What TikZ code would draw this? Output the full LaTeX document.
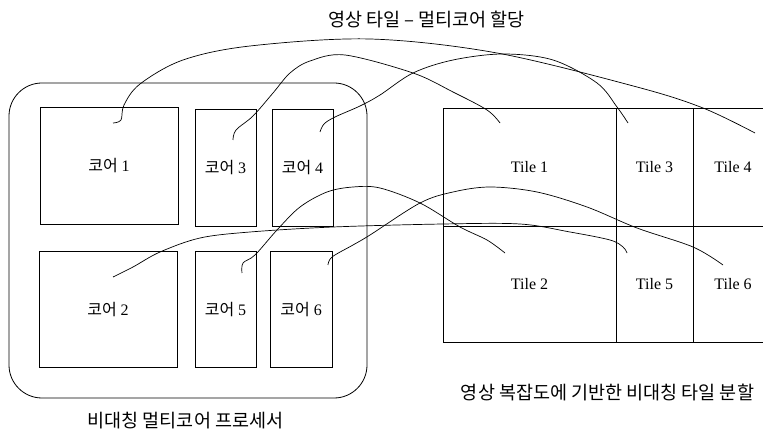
\documentclass[tikz,border=0pt]{standalone}
\usepackage{fontspec}
\setmainfont{Liberation Serif}
\newfontfamily\kr{Noto Sans CJK KR}
\begin{document}
\begin{tikzpicture}[x=1pt,y=-1pt,
  box/.style={draw, line width=0.8pt, inner sep=0pt, font=\fontsize{16}{18}\selectfont},
  link/.style={line width=0.7pt},
  captxt/.style={font=\kr\fontsize{18.5}{20}\selectfont, inner sep=0pt}]
\useasboundingbox (0,0) rectangle (763,430);
\clip (0,0) rectangle (763,430);
% processor
\node[draw, line width=0.8pt, rounded corners=33pt, minimum width=358pt, minimum height=315pt, inner sep=0pt] (proc) at (188,240.5) {};
\node[box, minimum width=138pt, minimum height=117pt] (c1) at (109,165.5) {{\kr 코어} 1};
\node[box, minimum width=61pt, minimum height=117pt] (c3) at (225.5,167.5) {{\kr 코어} 3};
\node[box, minimum width=61pt, minimum height=117pt] (c4) at (302.5,167.5) {{\kr 코어} 4};
\node[box, minimum width=138pt, minimum height=116pt] (c2) at (108,309.7) {{\kr 코어} 2};
\node[box, minimum width=61pt, minimum height=116pt] (c5) at (225.5,309.7) {{\kr 코어} 5};
\node[box, minimum width=62pt, minimum height=116pt] (c6) at (301.2,309.7) {{\kr 코어} 6};
% tiles
\node[box, minimum width=173pt, minimum height=118pt] (t1) at (529.5,167) {Tile 1};
\node[box, minimum width=77pt, minimum height=118pt] (t3) at (654.5,167) {Tile 3};
\node[box, minimum width=80pt, minimum height=118pt] (t4) at (733,167) {Tile 4};
\node[box, minimum width=173pt, minimum height=116pt] (t2) at (529.5,284) {Tile 2};
\node[box, minimum width=77pt, minimum height=116pt] (t5) at (654.5,284) {Tile 5};
\node[box, minimum width=80pt, minimum height=116pt] (t6) at (733,284) {Tile 6};
% captions
\node[captxt] (title) at (426.5,20) {영상 타일 – 멀티코어 할당};
\node[captxt] (lp) at (185.5,421) {비대칭 멀티코어 프로세서};
\node[captxt] (lt) at (607.5,392) {영상 복잡도에 기반한 비대칭 타일 분할};
% connector end points
\coordinate (s1) at (113,123); \coordinate (e4) at (755,133);
\coordinate (s3) at (233,140); \coordinate (e1) at (500,123);
\coordinate (s4) at (320,132); \coordinate (e3) at (628,123);
\coordinate (s2) at (113,277); \coordinate (e5) at (627,253);
\coordinate (s5) at (242,273); \coordinate (e2) at (505,253);
\coordinate (s6) at (328,265); \coordinate (e6) at (723,265);
% connectors
\draw[link] plot[smooth, tension=0.55] coordinates {(s1) (121,120) (124,105) (140,84) (183,60) (250,46) (370,39) (497,53) (637,87) (703,108) (e4)};
\draw[link] plot[smooth, tension=0.55] coordinates {(s3) (236,130) (253,116) (273,93) (290,73) (310,61) (345,55) (413,73) (453,92) (487,110) (e1)};
\draw[link] plot[smooth, tension=0.55] coordinates {(s4) (324,124) (335,117) (360,106) (380,95) (413,73) (453,60) (503,54) (553,60) (597,83) (617,107) (e3)};
\draw[link] plot[smooth, tension=0.55] coordinates {(s2) (133,267) (160,252) (200,238) (250,232) (333,227) (443,224) (520,224) (570,232) (610,240) (623,247) (e5)};
\draw[link] plot[smooth, tension=0.55] coordinates {(s5) (243,263) (255,255) (277,230) (300,207) (327,192) (353,187) (380,188) (420,203) (460,227) (487,240) (e2)};
\draw[link] plot[smooth, tension=0.55] coordinates {(s6) (332,257) (353,245) (370,235) (420,203) (453,192) (490,187) (537,192) (587,207) (637,228) (693,247) (e6)};
\end{tikzpicture}
\end{document}
